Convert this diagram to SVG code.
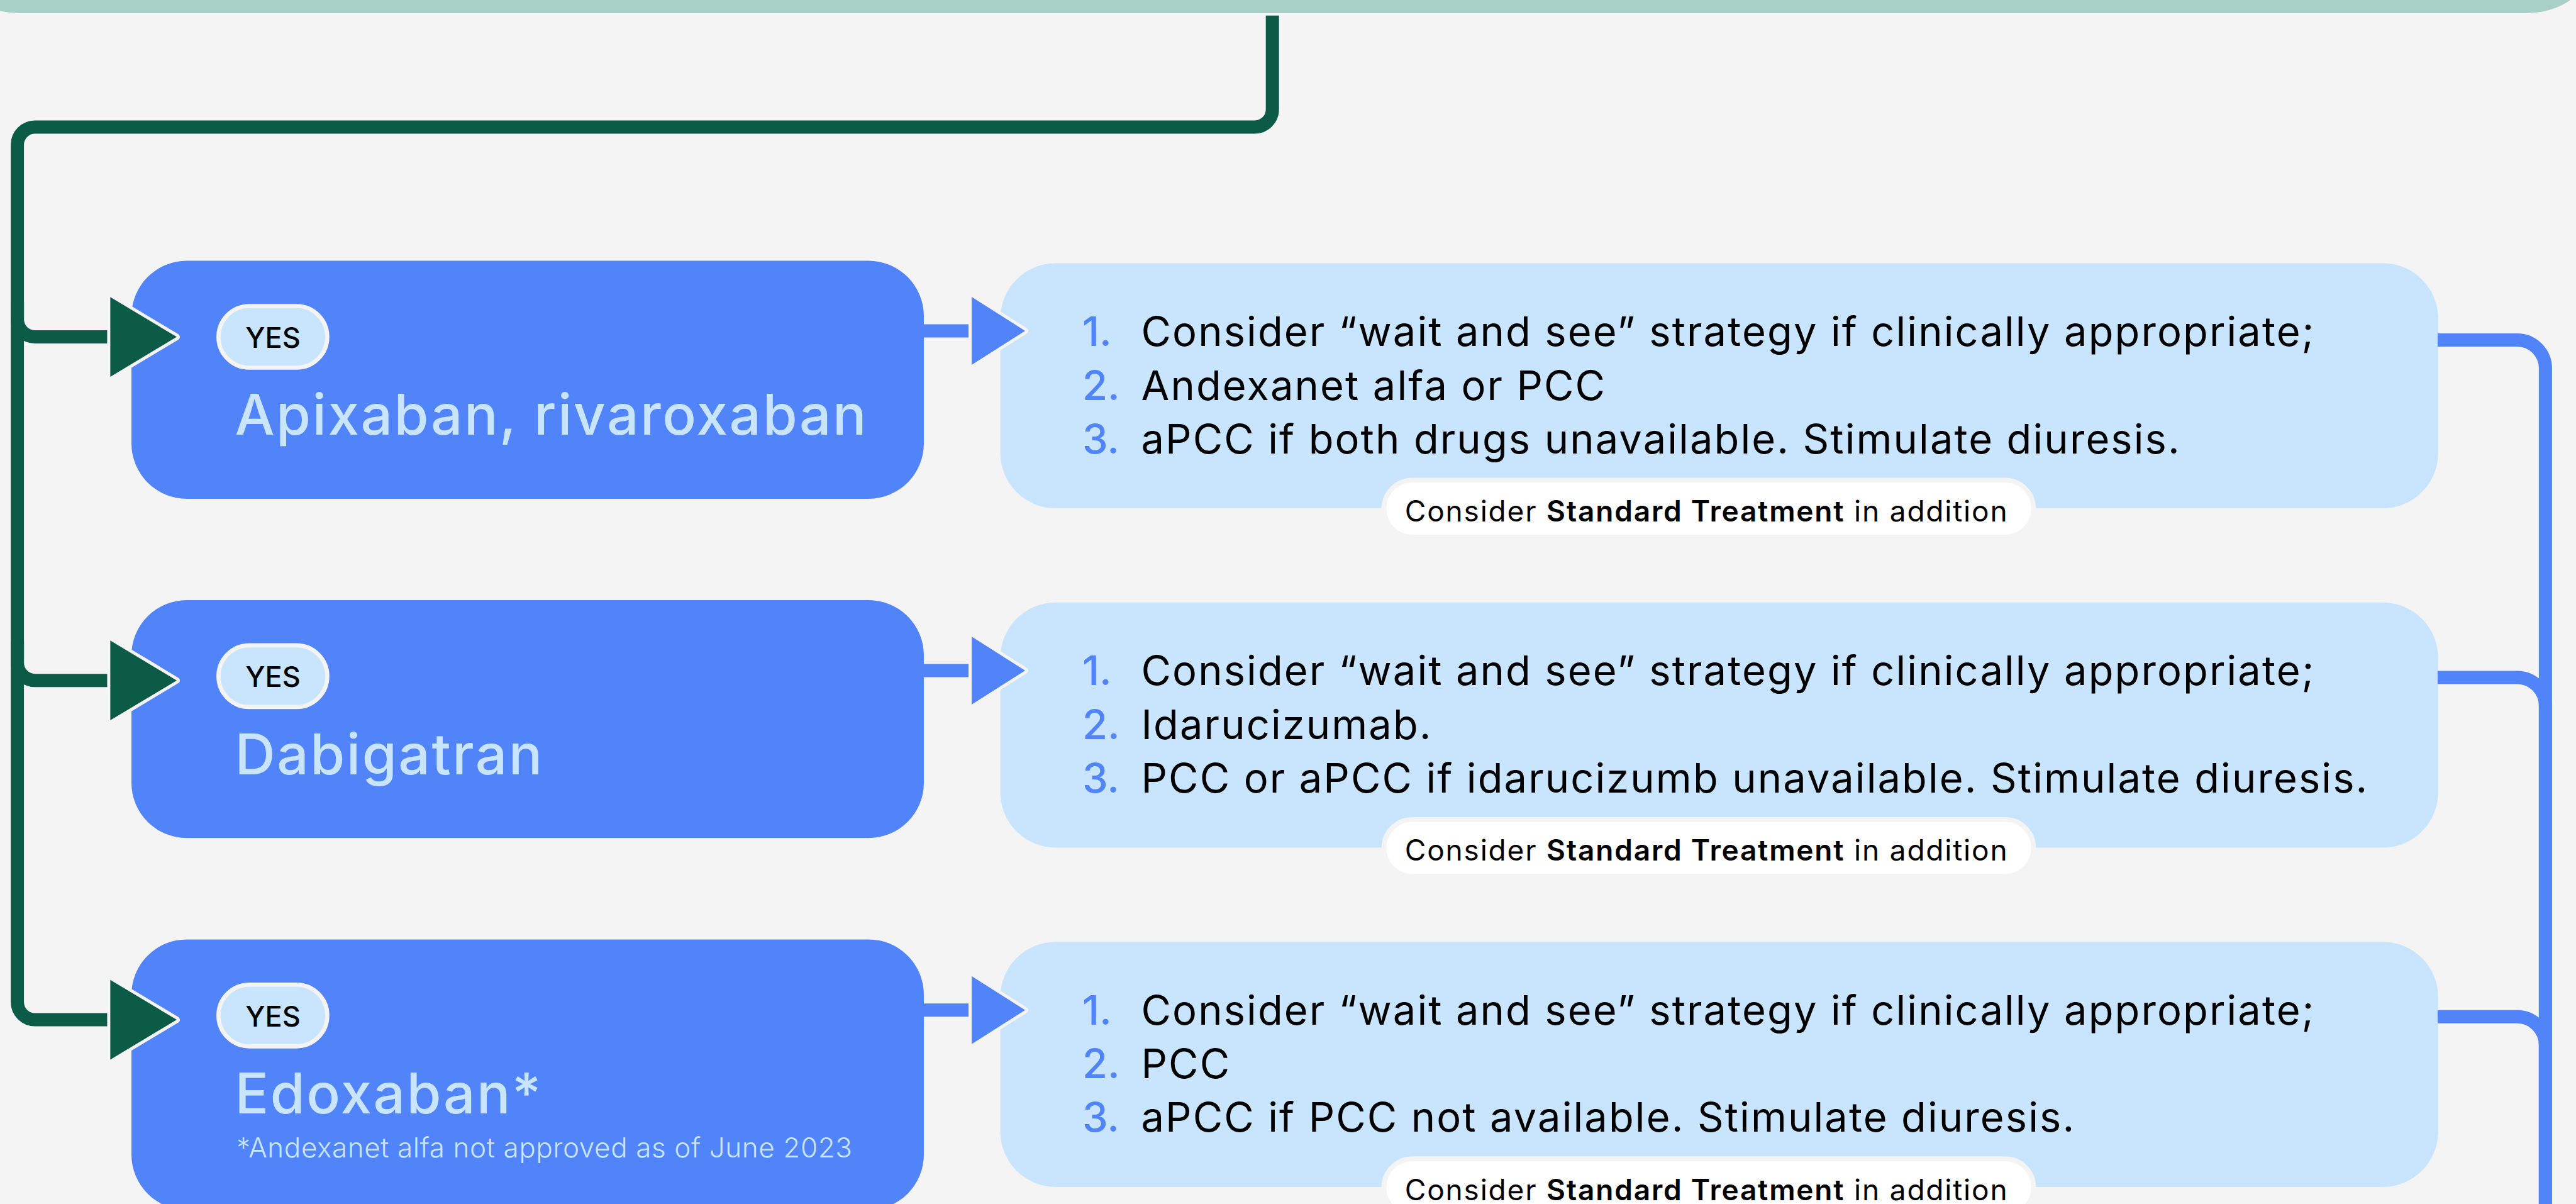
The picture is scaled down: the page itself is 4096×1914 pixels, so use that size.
<svg xmlns="http://www.w3.org/2000/svg" width="4096" height="1914" viewBox="0 0 4096 1914">
  <style>
    .bg { fill: #f4f4f4; }
    .bar { fill: #a8d0c5; }
    .drug { fill: #5184f9; }
    .plan { fill: #c9e5fd; }
    .yes-pill { fill: #c9e5fd; stroke: #f4f4f4; stroke-width: 6.7; }
    .std-pill { fill: #ffffff; stroke: #f4f4f4; stroke-width: 7.6; }
    .yes { font-family: Inter, Lato, sans-serif; font-size: 45px; font-weight: 500; fill: #000000; text-anchor: middle; }
    .drug-name { font-family: Inter, Lato, sans-serif; font-size: 89px; font-weight: 500; letter-spacing: 2.5px; fill: #c9e5fd; }
    .note { font-family: Inter, Lato, sans-serif; font-size: 44px; font-weight: 300; letter-spacing: 0.6px; fill: #c9e5fd; }
    .step { font-family: Inter, Lato, sans-serif; font-size: 65px; font-weight: 400; letter-spacing: 2.1px; fill: #000000; }
    .num { font-family: Inter, Lato, sans-serif; font-size: 65px; font-weight: 500; fill: #5184f9; }
    .std { font-family: Inter, Lato, sans-serif; font-size: 46px; font-weight: 400; letter-spacing: 1.8px; fill: #000000; }
    .std .b { font-weight: 600; }
    .green-line { fill: none; stroke: #0c5b47; stroke-width: 21; }
    .green-head { fill: #0c5b47; stroke: #f4f4f4; stroke-width: 10; stroke-linejoin: round; paint-order: stroke; }
    .blue-line { fill: none; stroke: #5184f9; stroke-width: 21; }
    .blue-head { fill: #5184f9; stroke: #f4f4f4; stroke-width: 10; stroke-linejoin: round; paint-order: stroke; }
  </style>

  <rect class="bg" x="0" y="0" width="4096" height="1914"/>

  <!-- question box above, only its lower edge shows -->
  <g id="question">
    <rect class="bar" x="-62" y="-100" width="4172" height="121" rx="95"/>
  </g>

  <!-- row 1: apixaban / rivaroxaban -->
  <g id="drug-apixaban">
    <rect class="drug" x="209" y="414.6" width="1260" height="378.3" rx="88"/>
    <rect class="yes-pill" x="347.4" y="486.5" width="173" height="98" rx="49"/>
    <text class="yes" x="434" y="552.7">YES</text>
    <text class="drug-name" x="373.5" y="691">Apixaban, rivaroxaban</text>
  </g>
  <g id="plan-apixaban">
    <rect class="plan" x="1590.6" y="418.4" width="2286.2" height="389.7" rx="88"/>
    <text class="num" x="1721" y="549.9">1.</text>
    <text class="step" x="1814.5" y="549.9">Consider “wait and see” strategy if clinically appropriate;</text>
    <text class="num" x="1721" y="635.6">2.</text>
    <text class="step" x="1814.5" y="635.6">Andexanet alfa or PCC</text>
    <text class="num" x="1721" y="720.5">3.</text>
    <text class="step" x="1814.5" y="720.5">aPCC if both drugs unavailable. Stimulate diuresis.</text>
    <rect class="std-pill" x="2200.5" y="763.3" width="1033" height="90.6" rx="45.3"/>
    <text class="std" x="2233.8" y="829">Consider <tspan class="b">Standard Treatment</tspan> in addition</text>
  </g>

  <!-- row 2: dabigatran -->
  <g id="drug-dabigatran">
    <rect class="drug" x="209" y="954" width="1260" height="378.3" rx="88"/>
    <rect class="yes-pill" x="347.4" y="1025.9" width="173" height="98" rx="49"/>
    <text class="yes" x="434" y="1092.1">YES</text>
    <text class="drug-name" x="373.5" y="1231.3">Dabigatran</text>
  </g>
  <g id="plan-dabigatran">
    <rect class="plan" x="1590.6" y="957.8" width="2286.2" height="389.7" rx="88"/>
    <text class="num" x="1721" y="1089.3">1.</text>
    <text class="step" x="1814.5" y="1089.3">Consider “wait and see” strategy if clinically appropriate;</text>
    <text class="num" x="1721" y="1175">2.</text>
    <text class="step" x="1814.5" y="1175">Idarucizumab.</text>
    <text class="num" x="1721" y="1259.9">3.</text>
    <text class="step" x="1814.5" y="1259.9">PCC or aPCC if idarucizumb unavailable. Stimulate diuresis.</text>
    <rect class="std-pill" x="2200.5" y="1302.7" width="1033" height="90.6" rx="45.3"/>
    <text class="std" x="2233.8" y="1368.4">Consider <tspan class="b">Standard Treatment</tspan> in addition</text>
  </g>

  <!-- row 3: edoxaban -->
  <g id="drug-edoxaban">
    <rect class="drug" x="209" y="1493.4" width="1260" height="430" rx="88"/>
    <rect class="yes-pill" x="347.4" y="1565.3" width="173" height="98" rx="49"/>
    <text class="yes" x="434" y="1631.5">YES</text>
    <text class="drug-name" x="373.5" y="1769.7">Edoxaban*</text>
    <text class="note" x="376" y="1840.2">*Andexanet alfa not approved as of June 2023</text>
  </g>
  <g id="plan-edoxaban">
    <rect class="plan" x="1590.6" y="1497.2" width="2286.2" height="389.7" rx="88"/>
    <text class="num" x="1721" y="1628.7">1.</text>
    <text class="step" x="1814.5" y="1628.7">Consider “wait and see” strategy if clinically appropriate;</text>
    <text class="num" x="1721" y="1714.4">2.</text>
    <text class="step" x="1814.5" y="1714.4">PCC</text>
    <text class="num" x="1721" y="1799.3">3.</text>
    <text class="step" x="1814.5" y="1799.3">aPCC if PCC not available. Stimulate diuresis.</text>
    <rect class="std-pill" x="2200.5" y="1842.1" width="1033" height="90.6" rx="45.3"/>
    <text class="std" x="2233.8" y="1907.8">Consider <tspan class="b">Standard Treatment</tspan> in addition</text>
  </g>

  <!-- connectors -->
  <g id="connectors">
    <!-- trunk from the question box down the left side -->
    <path class="green-line" d="M2023.2,24.8 V174 A28,28 0 0 1 1995.2,202 H55.6 A28,28 0 0 0 27.6,230 V1593.1 A28,28 0 0 0 55.6,1621.1 H182"/>
    <path class="green-line" d="M27.6,480 V507.6 A28,28 0 0 0 55.6,535.6 H182"/>
    <path class="green-line" d="M27.6,1020 V1053.7 A28,28 0 0 0 55.6,1081.7 H182"/>
    <polygon class="green-head" points="175.4,472.2 281,535.6 175.4,599"/>
    <polygon class="green-head" points="175.4,1018.3 281,1081.7 175.4,1145.1"/>
    <polygon class="green-head" points="175.4,1557.7 281,1621.1 175.4,1684.5"/>

    <!-- drug box to treatment plan -->
    <path class="blue-line" d="M1468,526 H1552"/>
    <path class="blue-line" d="M1468,1066 H1552"/>
    <path class="blue-line" d="M1468,1605.8 H1552"/>
    <polygon class="blue-head" points="1545,472 1630,526 1545,580"/>
    <polygon class="blue-head" points="1545,1012 1630,1066 1545,1120"/>
    <polygon class="blue-head" points="1545,1551.8 1630,1605.8 1545,1659.8"/>

    <!-- treatment plans merge on the right -->
    <path class="blue-line" d="M3876,540.4 H4002.4 A45,45 0 0 1 4047.4,585.4 V1930"/>
    <path class="blue-line" d="M3876,1076.9 H4002.4 A45,45 0 0 1 4047.4,1121.9 V1930"/>
    <path class="blue-line" d="M3876,1616.3 H4002.4 A45,45 0 0 1 4047.4,1661.3 V1930"/>
  </g>
</svg>
